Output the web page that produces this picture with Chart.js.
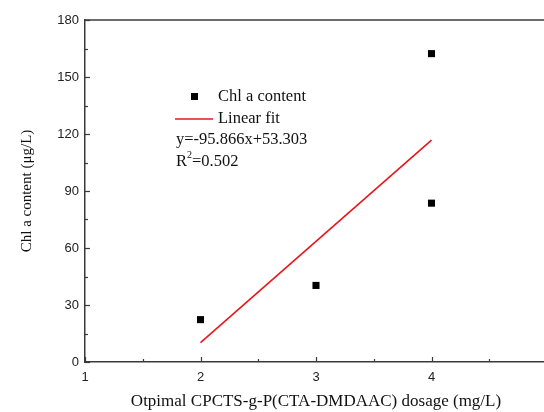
<!DOCTYPE html>
<html>
<head>
<meta charset="utf-8">
<script src="https://cdn.jsdelivr.net/npm/chart.js@4"></script>
<style>
  html, body { margin: 0; padding: 0; background: #fff; overflow: hidden; }
  #wrap { width: 570px; height: 412px; }
</style>
</head>
<body>
<div id="wrap"><canvas id="c" width="570" height="412"></canvas></div>
<script>
// измеренные точки
const dosage = [2, 3, 4, 4];
const chlA = [22.3, 40.3, 162.3, 83.6];
// концы линии аппроксимации
const fitX = [2, 4];
const fitY = [10.2, 116.8];

const xTicks = [1, 2, 3, 4];
const yTicks = [0, 30, 60, 90, 120, 150, 180];

const legendLabels = ['Chl a content', 'Linear fit'];
const equationText = 'y=-95.866x+53.303';
const r2Text = '=0.502';

const serif = '"Liberation Serif", "Times New Roman", serif';
const sans = '"Liberation Sans", Arial, sans-serif';
const axisColor = '#3a3a3a';

// Рамка сверху и внутренние засечки
const innerTicks = {
  id: 'innerTicks',
  afterDraw(chart) {
    const { ctx, chartArea: { left, right, top, bottom }, scales: { x, y } } = chart;
    ctx.save();
    ctx.strokeStyle = axisColor;
    ctx.lineWidth = 1.5;
    ctx.beginPath();
    ctx.moveTo(left, top);
    ctx.lineTo(right, top);
    ctx.stroke();
    ctx.lineWidth = 1.2;
    for (let v = 0; v <= 180; v += 15) {
      const py = Math.round(y.getPixelForValue(v)) + 0.5;
      const len = v % 30 === 0 ? 5 : 3;
      ctx.beginPath();
      ctx.moveTo(left, py);
      ctx.lineTo(left + len, py);
      ctx.stroke();
    }
    for (let v = 1; v <= 5; v += 0.5) {
      const px = Math.round(x.getPixelForValue(v)) + 0.5;
      const len = v % 1 === 0 ? 5 : 3;
      ctx.beginPath();
      ctx.moveTo(px, bottom);
      ctx.lineTo(px, bottom - len);
      ctx.stroke();
    }
    ctx.restore();
  },
};

// Легенда и уравнение
const legendBox = {
  id: 'legendBox',
  afterDraw(chart) {
    const { ctx } = chart;
    ctx.save();
    ctx.fillStyle = '#000';
    ctx.fillRect(191, 93, 7, 7);
    ctx.strokeStyle = '#e8161b';
    ctx.lineWidth = 1.5;
    ctx.beginPath();
    ctx.moveTo(175, 119);
    ctx.lineTo(213, 119);
    ctx.stroke();
    ctx.font = '16.5px ' + serif;
    ctx.fillStyle = '#111';
    ctx.textBaseline = 'middle';
    ctx.fillText(legendLabels[0], 218, 97);
    ctx.fillText(legendLabels[1], 218, 119);
    ctx.fillText(equationText, 176, 140);
    ctx.fillText('R', 176, 162);
    const rw = ctx.measureText('R').width;
    ctx.font = '10px ' + serif;
    ctx.fillText('2', 176 + rw, 155);
    const sw = ctx.measureText('2').width;
    ctx.font = '16.5px ' + serif;
    ctx.fillText(r2Text, 176 + rw + sw, 162);
    ctx.restore();
  },
};

new Chart(document.getElementById('c'), {
  type: 'scatter',
  data: {
    datasets: [
      {
        data: dosage.map((d, i) => ({ x: d, y: chlA[i] })),
        backgroundColor: '#000',
        borderColor: '#000',
        pointStyle: 'rect',
        pointRadius: 5,
        borderWidth: 0,
      },
      {
        type: 'line',
        data: fitX.map((d, i) => ({ x: d, y: fitY[i] })),
        borderColor: '#e8161b',
        borderWidth: 1.6,
        pointRadius: 0,
        fill: false,
      },
    ],
  },
  options: {
    responsive: false,
    animation: false,
    layout: { padding: { left: 0, top: 20, right: 23, bottom: 0 } },
    plugins: { legend: { display: false }, tooltip: { enabled: false } },
    scales: {
      x: {
        type: 'linear',
        min: 1,
        max: 5,
        afterFit: (s) => { s.height = 50; },
        afterBuildTicks: (s) => { s.ticks = xTicks.map((v) => ({ value: v })); },
        grid: { display: false, drawTicks: false },
        border: { display: true, color: axisColor, width: 1.5 },
        ticks: { color: '#222', font: { family: sans, size: 13 }, padding: 8 },
        title: {
          display: true,
          text: 'Otpimal CPCTS-g-P(CTA-DMDAAC) dosage (mg/L)',
          color: '#111',
          font: { family: serif, size: 17 },
          padding: { top: 0, bottom: 0 },
        },
      },
      y: {
        min: 0,
        max: 180,
        afterFit: (s) => { s.width = 85; },
        afterBuildTicks: (s) => { s.ticks = yTicks.map((v) => ({ value: v })); },
        grid: { display: false, drawTicks: false },
        border: { display: true, color: axisColor, width: 1.5 },
        ticks: { color: '#222', font: { family: sans, size: 13 }, padding: 6 },
        title: {
          display: true,
          text: 'Chl a content (μg/L)',
          color: '#111',
          font: { family: serif, size: 15 },
          padding: { top: 18, bottom: 0 },
        },
      },
    },
  },
  plugins: [innerTicks, legendBox],
});
</script>
</body>
</html>
